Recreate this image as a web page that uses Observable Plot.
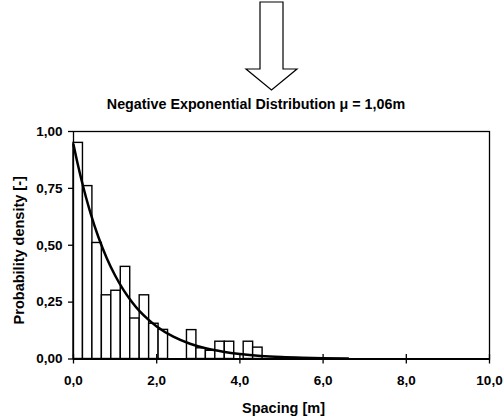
<!DOCTYPE html>
<html>
<head>
<meta charset="utf-8">
<script src="https://cdn.jsdelivr.net/npm/d3@7"></script>
<script src="https://cdn.jsdelivr.net/npm/@observablehq/plot@0.6"></script>
<style>
  html, body { margin: 0; padding: 0; background: #fff; }
  #wrap { position: relative; width: 504px; height: 418px; }
  #overlay { position: absolute; left: 0; top: 0; pointer-events: none; }
</style>
</head>
<body>
<div id="wrap">
  <div id="chart"></div>
  <svg id="overlay" width="504" height="418">
    <polygon points="260,2 283,2 283,69 297,69 271.5,90 246,69 260,69" fill="#fff" stroke="#000" stroke-width="1.2"/>
    <text x="256" y="109" text-anchor="middle" font-family="Liberation Sans, Arial, sans-serif" font-weight="bold" font-size="14.3">Negative Exponential Distribution μ = 1,06m</text>
  </svg>
</div>
<script>
// Histogram: 44 equal classes over 0–10 m; only the first 20 hold data
const binCount = 44;
const barHeights = [0.95, 0.76, 0.51, 0.28, 0.30, 0.405, 0.178, 0.28, 0.155, 0.128,
                    0, 0, 0.127, 0.047, 0.036, 0.076, 0.076, 0, 0.076, 0.05];
// Fitted curve
const curveX = [0, 0.1, 0.2, 0.3, 0.4, 0.6, 0.8, 1.0, 1.2, 1.4, 1.6, 1.8, 2.0, 2.4, 2.8, 3.2, 3.6, 4.0, 4.5, 5.0, 5.5, 6.0, 6.6];
const curveY = [0.943, 0.858, 0.781, 0.711, 0.647, 0.535, 0.443, 0.367, 0.304, 0.252, 0.208, 0.173, 0.143, 0.098, 0.067, 0.046, 0.032, 0.022, 0.0135, 0.0084, 0.0053, 0.0033, 0.0019];
const xTicks = [0, 2, 4, 6, 8, 10];
const yTicks = [0, 0.25, 0.5, 0.75, 1];
const xLabel = "Spacing [m]";
const yLabel = "Probability density [-]";

const binW = 10 / binCount;
const fmt1 = d => d.toFixed(1).replace(".", ",");
const fmt2 = d => d.toFixed(2).replace(".", ",");
const font = "Liberation Sans, Arial, sans-serif";

const chart = Plot.plot({
  width: 504,
  height: 418,
  marginLeft: 73,
  marginRight: 15,
  marginTop: 131,
  marginBottom: 59.5,
  style: { fontFamily: font, fontSize: "13.5px", fontWeight: "bold", color: "#000", background: "#fff" },
  x: { domain: [0, 10], label: null },
  y: { domain: [0, 1], label: null },
  marks: [
    Plot.rectY(barHeights, {
      x1: (d, i) => i * binW,
      x2: (d, i) => (i + 1) * binW,
      y: d => d,
      fill: "#fff", stroke: "#000", strokeWidth: 1.4
    }),
    Plot.line(curveX, { x: d => d, y: (d, i) => curveY[i], stroke: "#000", strokeWidth: 2.5, curve: "monotone-x" }),
    Plot.frame({ stroke: "#000", strokeWidth: 1.3 }),
    Plot.ruleY([0], { stroke: "#000", strokeWidth: 2 }),
    Plot.ruleX(xTicks, { y1: 0, y2: 0.02, stroke: "#000", strokeWidth: 1.3 }),
    Plot.axisY({ ticks: yTicks, tickFormat: fmt2, tickSize: 5, tickPadding: 6, stroke: "#000", strokeWidth: 1.3, fontSize: 13.5, fontWeight: "bold", label: null }),
    Plot.axisX({ ticks: xTicks, tickFormat: fmt1, tickSize: 5, tickPadding: 11, stroke: "#000", strokeWidth: 1.3, fontSize: 13.5, fontWeight: "bold", label: null }),
    Plot.text([xLabel], { text: d => d, frameAnchor: "bottom", lineAnchor: "middle", textAnchor: "middle", dx: 2, dy: 49.5, fontSize: 14.5, fontWeight: "bold" }),
    Plot.text([yLabel], { text: d => d, frameAnchor: "left", lineAnchor: "middle", textAnchor: "middle", dx: -54, dy: 5, rotate: -90, fontSize: 14.5, fontWeight: "bold" })
  ]
});
document.getElementById("chart").appendChild(chart);
</script>
</body>
</html>
